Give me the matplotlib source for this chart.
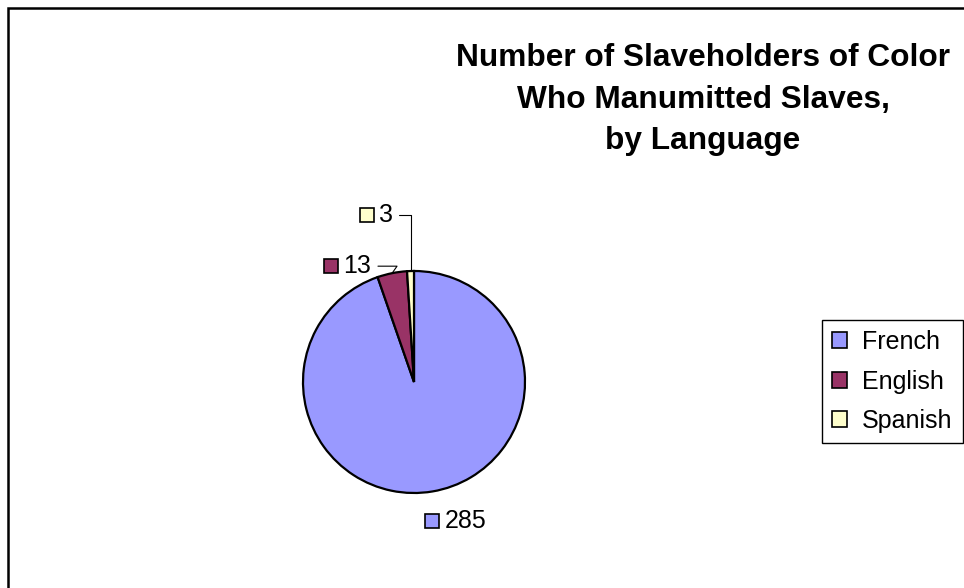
import matplotlib.pyplot as plt
from matplotlib.patches import Patch, Rectangle
import numpy as np

languages = ['French', 'English', 'Spanish']
counts = [285, 13, 3]
colors = ['#9999FF', '#993366', '#FFFFCC']

# label placement (pixel offsets from the wedge rim) and leader line styles
label_offsets = [(12, -30), (-49, 7), (-32, 56)]
leader_styles = [None, 'angle,angleA=0,angleB=55,rad=0', 'angle,angleA=0,angleB=90,rad=0']

plt.rcParams['font.family'] = ['Liberation Sans', 'DejaVu Sans']

fig = plt.figure(figsize=(9.64, 5.88), dpi=100)
ax = fig.add_axes([0, 0, 1, 1])

cx, cy, r = 414, 206, 111
wedges, _ = ax.pie(counts, colors=colors, startangle=90, counterclock=False,
                   center=(cx, cy), radius=r, frame=True,
                   wedgeprops=dict(edgecolor='black', linewidth=1.6))
ax.set_xlim(0, 964)
ax.set_ylim(0, 588)
ax.set_aspect('equal')
ax.axis('off')

for w, n, c, (dx, dy), style in zip(wedges, counts, colors, label_offsets, leader_styles):
    mid = np.deg2rad((w.theta1 + w.theta2) / 2)
    ex, ey = cx + r * np.cos(mid), cy + r * np.sin(mid)
    tx, ty = ex + dx, ey + dy
    if style is None:
        ax.text(tx, ty, str(n), ha='left', va='center', fontsize=18)
    else:
        ax.annotate(str(n), xy=(ex, ey), xytext=(tx, ty), ha='left', va='center',
                    fontsize=18,
                    arrowprops=dict(arrowstyle='-', connectionstyle=style,
                                    color='black', lw=0.8, shrinkA=3, shrinkB=0))
    ax.plot(tx - 12, ty, marker='s', markersize=10, markerfacecolor=c,
            markeredgecolor='black', markeredgewidth=1.2, clip_on=False)

fig.text(703 / 964, 1 - 100 / 588,
         'Number of Slaveholders of Color\nWho Manumitted Slaves,\nby Language',
         ha='center', va='center', fontsize=22.8, fontweight='bold', linespacing=1.5)

handles = [Patch(facecolor=c, edgecolor='black', linewidth=1.2, label=l)
           for c, l in zip(colors, languages)]
leg = fig.legend(handles=handles, loc='upper left',
                 bbox_to_anchor=(822 / 964, 1 - 320 / 588),
                 fontsize=18, frameon=True, fancybox=False, edgecolor='black',
                 framealpha=1, handlelength=0.6, handleheight=0.6,
                 handletextpad=0.6, labelspacing=0.62, borderpad=0.4,
                 borderaxespad=0)
leg.get_frame().set_linewidth(1.0)

# chart area border
fig.add_artist(Rectangle((8 / 964, -0.1), 1.5, 1 - 8 / 588 + 0.1,
                         transform=fig.transFigure, fill=False,
                         edgecolor='black', linewidth=1.8))

fig.savefig('out.png', dpi=100)
